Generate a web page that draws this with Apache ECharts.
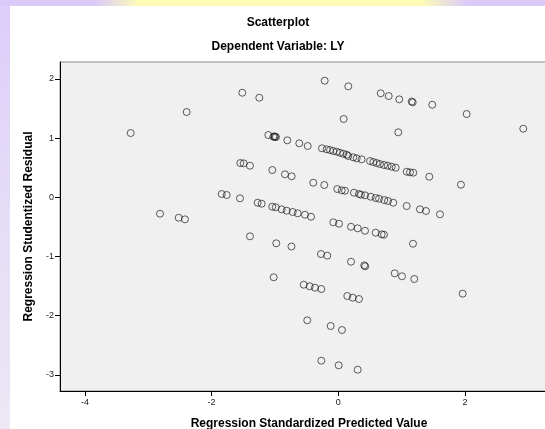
<!DOCTYPE html>
<html>
<head>
<meta charset="utf-8">
<script src="https://cdn.jsdelivr.net/npm/echarts@6/dist/echarts.min.js"></script>
<style>
  html, body { margin: 0; padding: 0; }
  body { width: 545px; height: 429px; position: relative; overflow: hidden;
         background: linear-gradient(to bottom, #dccdfa 0%, #e4daf8 40%, #ece8f4 100%); }
  #topband { position: absolute; left: 0; top: 0; width: 545px; height: 6px;
         background: linear-gradient(to right, #d9cafa 0px, #d9cafa 95px, #fffdb5 140px, #fffdb5 420px, #d9cafa 468px, #d9cafa 545px); }
  #panel { position: absolute; left: 10px; top: 6px; width: 535px; height: 423px; background: #ffffff; }
  #chart { position: absolute; left: 0; top: 0; width: 545px; height: 429px; }
</style>
</head>
<body>
<div id="topband"></div>
<div id="panel"></div>
<div id="chart"></div>
<script>
// Regression Standardized Predicted Value (x) and Regression Studentized Residual (y)
const predicted = [
  -1.516, -1.247, -2.394, -3.278, -0.215, 0.158, 0.670, 0.796, 0.963, 1.160, 1.175, 1.484, 2.027, 2.921, 0.085, 0.947,
  -1.105, -1.026, -1.000, -0.984, -1.008, -0.805, -0.616, -0.483, -0.257, -0.183, -0.131, -0.079, -0.025, 0.027, 0.079, 0.133,
  0.158, 0.237, 0.291, 0.369, 0.501, 0.553, 0.606, 0.658, 0.722, 0.780, 0.843, 0.906, 1.080, 1.132, 1.184, 1.437, 1.937,
  -1.547, -1.494, -1.394, -1.042, -0.842, -0.736, -0.395, -0.221, -0.016, 0.054, 0.106, 0.248, 0.327, 0.358, 0.422, 0.512,
  0.591, 0.643, 0.726, 0.785, 0.868, 1.080, 1.290, 1.385, 1.606,
  -1.841, -1.762, -1.552, -1.273, -1.210, -1.042, -0.988, -0.894, -0.815, -0.720, -0.641, -0.526, -0.431, -0.079, 0.011,
  0.201, 0.306, 0.422, 0.591, 0.685, 0.722, 1.180,
  -2.815, -2.520, -2.421, -1.394, -0.979, -0.739, -1.020,
  -0.273, -0.174, 0.201, 0.410, 0.425, 0.891, 1.006, 1.200, 1.964,
  -0.546, -0.452, -0.368, -0.268, 0.142, 0.227, 0.327,
  -0.490, -0.120, 0.058, -0.268, 0.006, 0.306
];
const residual = [
  1.767, 1.682, 1.441, 1.086, 1.970, 1.875, 1.757, 1.711, 1.655, 1.618, 1.605, 1.564, 1.407, 1.159, 1.323, 1.098,
  1.052, 1.024, 1.019, 1.019, 1.030, 0.963, 0.912, 0.867, 0.828, 0.811, 0.799, 0.782, 0.770, 0.753, 0.736, 0.720,
  0.698, 0.676, 0.659, 0.642, 0.613, 0.596, 0.579, 0.562, 0.546, 0.534, 0.517, 0.500, 0.432, 0.422, 0.416, 0.348, 0.213,
  0.579, 0.574, 0.534, 0.461, 0.389, 0.355, 0.247, 0.208, 0.140, 0.118, 0.111, 0.078, 0.056, 0.044, 0.034, 0.010,
  -0.012, -0.024, -0.046, -0.063, -0.091, -0.147, -0.203, -0.231, -0.287,
  0.056, 0.039, -0.017, -0.091, -0.108, -0.159, -0.169, -0.203, -0.226, -0.248, -0.270, -0.294, -0.328, -0.422, -0.446,
  -0.497, -0.524, -0.565, -0.598, -0.625, -0.632, -0.784,
  -0.277, -0.345, -0.372, -0.659, -0.777, -0.831, -1.351,
  -0.958, -0.986, -1.088, -1.150, -1.165, -1.284, -1.334, -1.380, -1.628,
  -1.476, -1.503, -1.527, -1.549, -1.667, -1.696, -1.718,
  -2.078, -2.174, -2.242, -2.760, -2.838, -2.912
];
const xTicks = [-4, -2, 0, 2];
const yTicks = [-3, -2, -1, 0, 1, 2];
const chartTitle = 'Scatterplot';
const chartSubtitle = 'Dependent Variable: LY';
const xTitle = 'Regression Standardized Predicted Value';
const yTitle = 'Regression Studentized Residual';

const points = predicted.map((x, i) => [x, residual[i]]);
const font = '"Liberation Sans", Arial, sans-serif';

const chart = echarts.init(document.getElementById('chart'), null, { renderer: 'canvas' });
chart.setOption({
  backgroundColor: 'transparent',
  animation: false,
  title: [
    { text: chartTitle, left: 273, top: 12, textAlign: 'center',
      textStyle: { fontFamily: font, fontSize: 12, fontWeight: 'bold', color: '#000' } },
    { text: chartSubtitle, left: 273, top: 36, textAlign: 'center',
      textStyle: { fontFamily: font, fontSize: 12, fontWeight: 'bold', color: '#000' } }
  ],
  grid: {
    left: 60, top: 62, right: -5, bottom: 38,
    outerBoundsMode: 'none', containLabel: false,
    show: true, backgroundColor: '#f0f0f0', borderColor: '#8a8a8a', borderWidth: 1
  },
  xAxis: {
    type: 'value', min: -4.394, max: 3.343,
    name: xTitle, nameLocation: 'middle', nameGap: 27,
    nameTextStyle: { fontFamily: font, fontSize: 12, fontWeight: 'bold', color: '#000', padding: [0, 0, 0, 8] },
    axisLine: { show: true, onZero: false, lineStyle: { color: '#000', width: 1 } },
    axisTick: { show: true, length: 5, lineStyle: { color: '#000' }, customValues: xTicks },
    axisLabel: { fontFamily: font, fontSize: 9, color: '#222', margin: 7, customValues: xTicks },
    splitLine: { show: false }
  },
  yAxis: {
    type: 'value', min: -3.272, max: 2.286,
    name: yTitle, nameLocation: 'middle', nameGap: 18, nameRotate: 90,
    nameTextStyle: { fontFamily: font, fontSize: 12, fontWeight: 'bold', color: '#000', padding: [0, 0, 0, 0] },
    axisLine: { show: true, onZero: false, lineStyle: { color: '#000', width: 1 } },
    axisTick: { show: true, length: 5, lineStyle: { color: '#000' }, customValues: yTicks },
    axisLabel: { fontFamily: font, fontSize: 9, color: '#222', margin: 6, customValues: yTicks },
    splitLine: { show: false }
  },
  series: [{
    type: 'scatter',
    data: points,
    symbol: 'circle',
    symbolSize: 7,
    itemStyle: { color: 'rgba(0,0,0,0)', borderColor: 'rgba(20,20,20,0.85)', borderWidth: 1 }
  }]
});
</script>
</body>
</html>
